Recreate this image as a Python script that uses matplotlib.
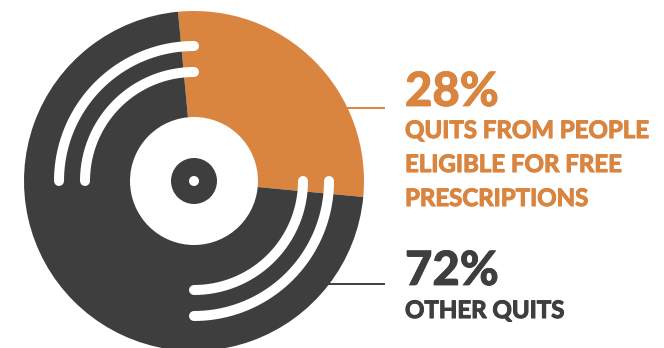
import numpy as np
import matplotlib
matplotlib.use("Agg")
import matplotlib.pyplot as plt
import matplotlib.patheffects as pe
from matplotlib.patches import Circle

# Share of quits
label_lines = [["QUITS FROM PEOPLE", "ELIGIBLE FOR FREE", "PRESCRIPTIONS"],
               ["OTHER QUITS"]]
shares = [28, 72]
colors = ["#D9843F", "#3E3E3E"]

W, H = 664, 348
fig = plt.figure(figsize=(W / 100, H / 100), dpi=100)
ax = fig.add_axes([0, 0, 1, 1])

cx, cy, R = 194, H - 181, 170

# Leader lines (drawn beneath the disc)
line_y = [H - 107.5, H - 283.5]
for y, c in zip(line_y, colors):
    ax.plot([cx, 385], [y, y], color=c, lw=1.4, zorder=1, solid_capstyle="butt")

# Record disc as a pie
ax.pie(shares, colors=colors, startangle=95.4, counterclock=False,
       center=(cx, cy), radius=R, frame=True,
       wedgeprops=dict(linewidth=0, zorder=2))
ax.set_xlim(0, W)
ax.set_ylim(0, H)
ax.set_aspect("equal")
ax.axis("off")

# Grooves
for r in (109, 135):
    for a0, a1 in ((90, 180), (-90, 0)):
        t = np.radians(np.linspace(a0, a1, 200))
        ax.plot(cx + r * np.cos(t), cy + r * np.sin(t), color="white",
                lw=7.2, solid_capstyle="round", zorder=3)

# Label area and spindle
ax.add_patch(Circle((cx, cy), 64, color="white", zorder=4, lw=0))
ax.add_patch(Circle((cx, cy), 23, color="#3E3E3E", zorder=5, lw=0))
ax.add_patch(Circle((cx, cy), 5, color="white", zorder=6, lw=0))

font = "Lato"
x0 = 405
pct_base = [106, 285]
text_base = [138, 318]
for share, lines, c, pb, tb in zip(shares, label_lines, colors, pct_base, text_base):
    ax.text(x0, H - pb, f"{share}%", color=c, fontsize=34,
            fontweight=900, family=font, va="baseline", ha="left",
            path_effects=[pe.withStroke(linewidth=0.6, foreground=c)])
    for i, line in enumerate(lines):
        ax.text(x0, H - (tb + 34 * i), line, color=c, fontsize=17.3,
                fontweight="bold", family=font, va="baseline", ha="left",
                path_effects=[pe.withStroke(linewidth=0.8, foreground=c)])

fig.savefig("out.png", dpi=100)
